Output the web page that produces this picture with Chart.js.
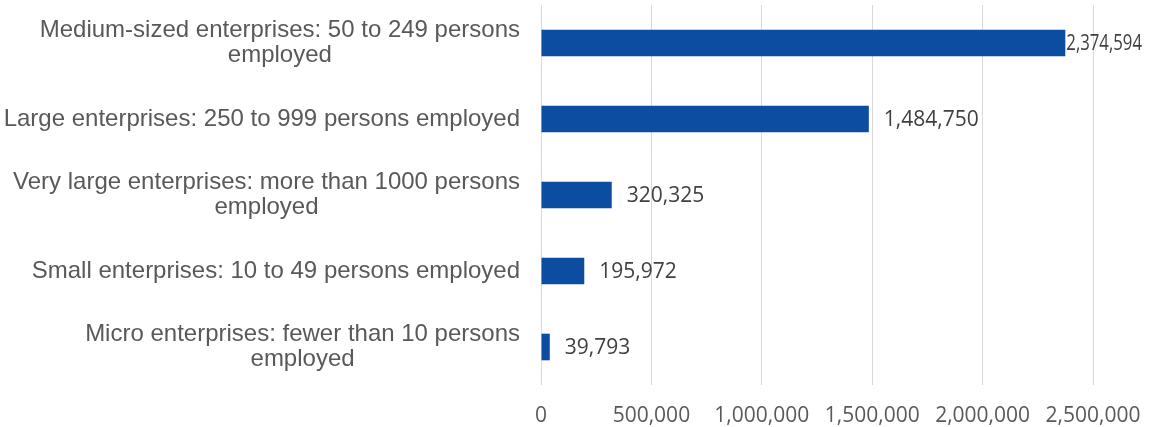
<!DOCTYPE html>
<html>
<head>
<meta charset="utf-8">
<script src="https://cdn.jsdelivr.net/npm/chart.js@4.4.1/dist/chart.umd.min.js"></script>
<style>
  html, body { margin: 0; padding: 0; background: #fff; }
  canvas { display: block; }
</style>
</head>
<body>
<canvas id="chart" width="1164" height="427"></canvas>
<script>
const categories = [
    ['Medium-sized enterprises: 50 to 249 persons', 'employed'],
    ['Large enterprises: 250 to 999 persons employed'],
    ['Very large enterprises: more than 1000 persons', 'employed'],
    ['Small enterprises: 10 to 49 persons employed'],
    ['Micro enterprises: fewer than 10 persons', 'employed']
];
const persons = [2374594, 1484750, 320325, 195972, 39793];
const xTicks = [0, 500000, 1000000, 1500000, 2000000, 2500000];

const BAR_COLOR = '#0D4DA1';
const NUM_FONT = '"Open Sans", sans-serif';
const LABEL_FONT = '"Liberation Sans", Arial, sans-serif';

// category labels: right aligned block, wrapped lines centred inside it
const categoryLabels = {
    id: 'categoryLabels',
    afterDraw(chart) {
        const ctx = chart.ctx;
        const yScale = chart.scales.y;
        const right = 520;
        const lineH = 25;
        ctx.save();
        ctx.font = '24px ' + LABEL_FONT;
        ctx.fillStyle = '#595959';
        ctx.textAlign = 'center';
        ctx.textBaseline = 'middle';
        categories.forEach((lines, i) => {
            const w = Math.max(...lines.map(l => ctx.measureText(l).width));
            const cx = right - w / 2;
            const cy = yScale.getPixelForValue(i);
            const top = cy - (lines.length - 1) * lineH / 2;
            lines.forEach((l, j) => ctx.fillText(l, cx, top + j * lineH));
        });
        ctx.restore();
    }
};

// value labels to the right of each bar, squeezed if they hit the edge
const valueLabels = {
    id: 'valueLabels',
    afterDatasetsDraw(chart) {
        const ctx = chart.ctx;
        const meta = chart.getDatasetMeta(0);
        const edge = 1142;
        ctx.save();
        ctx.font = '21px ' + NUM_FONT;
        ctx.fillStyle = '#404040';
        ctx.textAlign = 'left';
        ctx.textBaseline = 'middle';
        meta.data.forEach((bar, i) => {
            const txt = persons[i].toLocaleString('en-US');
            const w = ctx.measureText(txt).width;
            let x = bar.x + 15;
            if (x + w > edge) {
                x = bar.x + 1;
                ctx.fillText(txt, x, bar.y + 1, edge - x);
            } else {
                ctx.fillText(txt, x, bar.y + 1);
            }
        });
        ctx.restore();
    }
};

new Chart(document.getElementById('chart'), {
    type: 'bar',
    data: {
        labels: categories,
        datasets: [{
            data: persons,
            backgroundColor: BAR_COLOR,
            borderWidth: 0,
            categoryPercentage: 1,
            barPercentage: 0.35
        }]
    },
    options: {
        indexAxis: 'y',
        responsive: false,
        animation: false,
        devicePixelRatio: 1,
        layout: { padding: { left: 0, right: 71, top: 5, bottom: 0 } },
        plugins: {
            legend: { display: false },
            tooltip: { enabled: false }
        },
        scales: {
            x: {
                min: 0,
                max: 2500000,
                afterBuildTicks(scale) {
                    scale.ticks = xTicks.map(v => ({ value: v }));
                },
                afterFit(scale) { scale.height = 42; },
                grid: { color: '#D9D9D9', lineWidth: 1, drawTicks: false },
                border: { display: false },
                ticks: {
                    padding: 18,
                    color: '#595959',
                    font: { family: NUM_FONT, size: 21 },
                    maxRotation: 0,
                    callback: v => v.toLocaleString('en-US')
                }
            },
            y: {
                afterFit(scale) { scale.width = 541; },
                grid: { display: false },
                border: { display: false },
                ticks: { display: false }
            }
        }
    },
    plugins: [categoryLabels, valueLabels]
});
</script>
</body>
</html>
